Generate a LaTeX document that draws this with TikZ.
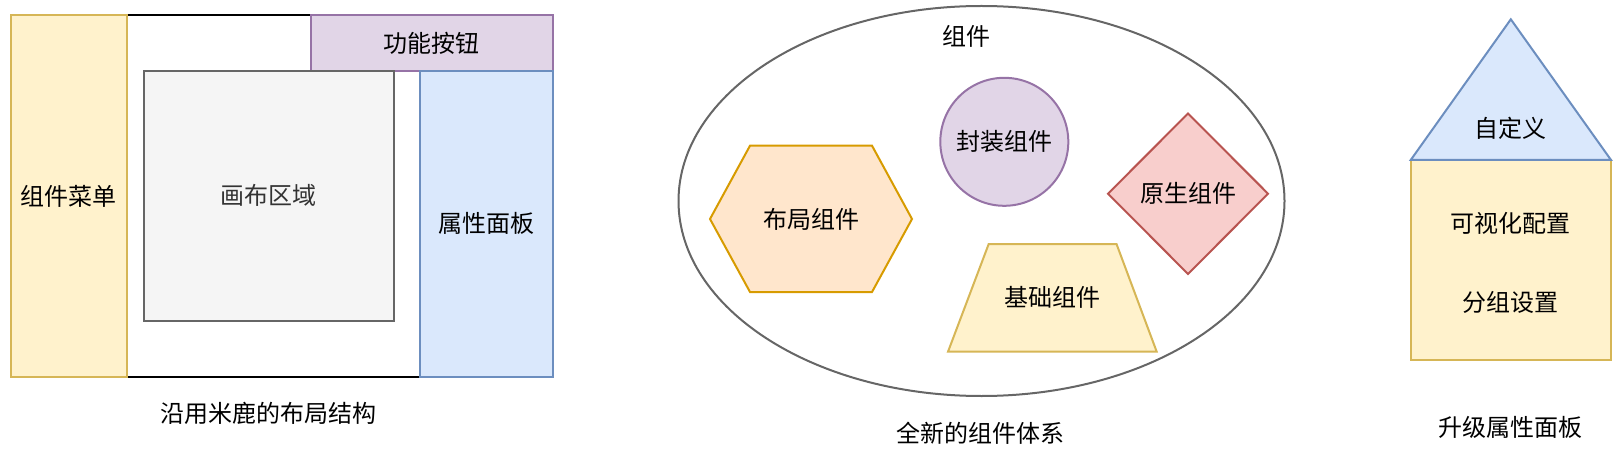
\documentclass[tikz,border=0pt]{standalone}
\usepackage{fontspec}
\setmainfont{Noto Sans CJK SC}

\definecolor{yellowfill}{HTML}{FFF2CC}
\definecolor{yellowline}{HTML}{D6B656}
\definecolor{purplefill}{HTML}{E1D5E7}
\definecolor{purpleline}{HTML}{9673A6}
\definecolor{bluefill}{HTML}{DAE8FC}
\definecolor{blueline}{HTML}{6C8EBF}
\definecolor{grayfill}{HTML}{F5F5F5}
\definecolor{grayline}{HTML}{666666}
\definecolor{grayfont}{HTML}{333333}
\definecolor{orangefill}{HTML}{FFE6CC}
\definecolor{orangeline}{HTML}{D79B00}
\definecolor{redfill}{HTML}{F8CECC}
\definecolor{redline}{HTML}{B85450}

\begin{document}
\begin{tikzpicture}[x=0.5pt,y=-0.5pt,
    lbl/.style={font=\fontsize{12}{14}\selectfont, inner sep=0pt},
    yellowbox/.style={fill=yellowfill, draw=yellowline, line width=1pt},
    purplebox/.style={fill=purplefill, draw=purpleline, line width=1pt},
    bluebox/.style={fill=bluefill, draw=blueline, line width=1pt},
    graybox/.style={fill=grayfill, draw=grayline, line width=1pt},
    orangebox/.style={fill=orangefill, draw=orangeline, line width=1pt},
    redbox/.style={fill=redfill, draw=redline, line width=1pt}]
\useasboundingbox (0,0) rectangle (1620,454);

% Layout a sinistra: cornice, menu, pulsanti, pannello, canvas
\draw[line width=1pt] (126.8,15) rectangle (552.5,377);
\draw[yellowbox] (10.7,15) rectangle (126.8,377) node[midway, lbl] (menu) {组件菜单};
\draw[purplebox] (311.4,15) rectangle (552.5,70.7) node[midway, lbl] (buttons) {功能按钮};
\draw[bluebox] (419.6,70.7) rectangle (552.5,377) node[midway, lbl] (props) {属性面板};
\draw[graybox] (143.6,70.7) rectangle (394,321) node[midway, lbl, text=grayfont] (canvas) {画布区域};
\node[lbl] (layoutcap) at (268.5,413) {沿用米鹿的布局结构};

% Sistema dei componenti al centro
\draw[draw=grayline, line width=1pt] (981.5,201) ellipse [x radius=151.5pt, y radius=97.5pt];
\node[lbl] (comp) at (966,36) {组件};
\draw[purplebox] (1004.3,141.8) circle [radius=32pt];
\node[lbl] (wrapped) at (1004.3,141.8) {封装组件};
\draw[orangebox] (710,219) -- (750,145.7) -- (872,145.7) -- (912,219) -- (872,292) -- (750,292) -- cycle;
\node[lbl] (layoutcomp) at (811,219) {布局组件};
\draw[redbox] (1188,113.5) -- (1268,193.7) -- (1188,274) -- (1108,193.7) -- cycle;
\node[lbl] (native) at (1188,193.7) {原生组件};
\draw[yellowbox] (988.7,244) -- (1116.5,244) -- (1156.7,351.7) -- (948,351.7) -- cycle;
\node[lbl] (basic) at (1052.3,297.8) {基础组件};
\node[lbl] (compcap) at (980,433) {全新的组件体系};

% Pannello delle proprieta' a destra
\draw[yellowbox] (1410.7,160) rectangle (1611,360);
\draw[bluebox] (1510.8,19.3) -- (1611,160) -- (1410.7,160) -- cycle;
\node[lbl] (custom) at (1510.8,128) {自定义};
\node[lbl] (visual) at (1510.8,223) {可视化配置};
\node[lbl] (group) at (1510.8,302) {分组设置};
\node[lbl] (propcap) at (1510.8,427) {升级属性面板};
\end{tikzpicture}
\end{document}
